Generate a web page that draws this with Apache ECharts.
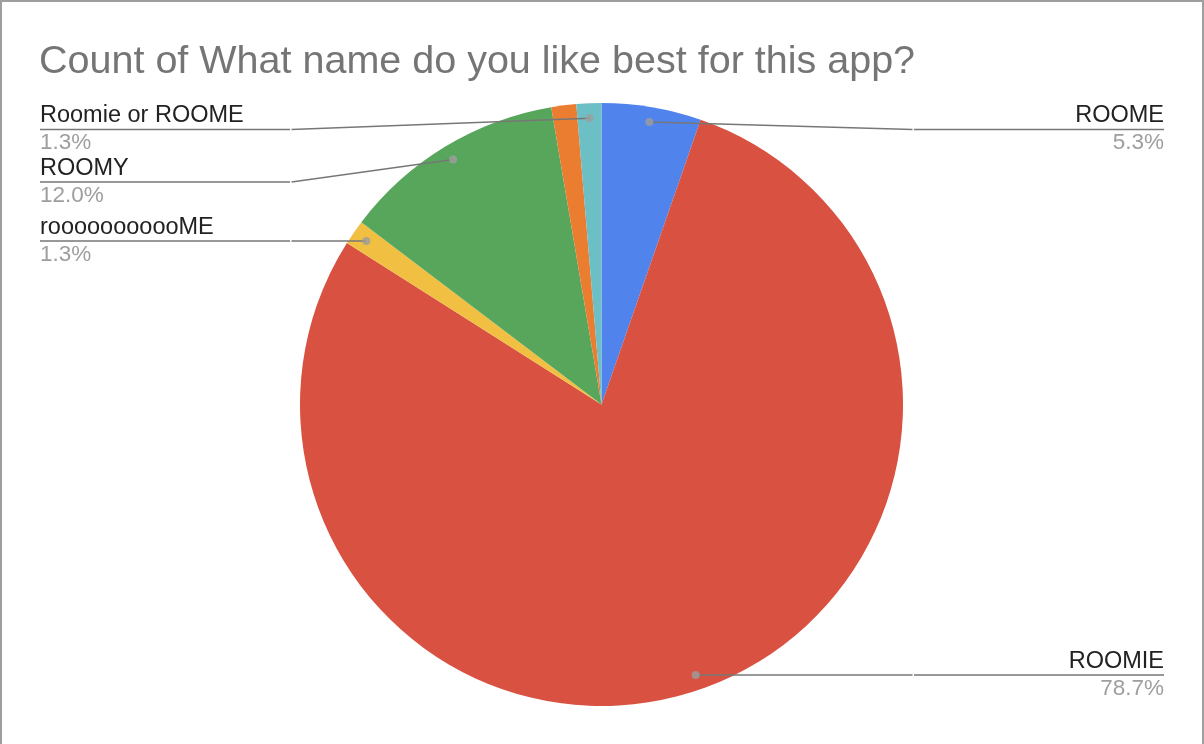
<!DOCTYPE html>
<html>
<head>
<meta charset="utf-8">
<script src="https://cdn.jsdelivr.net/npm/echarts@6/dist/echarts.min.js"></script>
<style>
  html, body { margin: 0; padding: 0; background: #fff; }
  #wrap { position: relative; width: 1204px; height: 744px; }
  #chart { width: 1204px; height: 744px; }
  #frame {
    position: absolute; left: 0; top: 0; width: 1204px; height: 744px;
    box-sizing: border-box; border: 2px solid #9e9e9e; border-bottom: none;
    pointer-events: none;
  }
</style>
</head>
<body>
<div id="wrap"><div id="chart"></div><div id="frame"></div></div>
<script>
// answers, clockwise from 12 o'clock
const names = ['ROOME', 'ROOMIE', 'rooooooooooME', 'ROOMY', 'Other', 'Roomie or ROOME'];
const counts = [4, 59, 1, 9, 1, 1];
const colors = ['#5083EB', '#D95140', '#F1BF42', '#58A65C', '#EB7D31', '#6CBFC5'];
// the sheet leaves this slice without a label
const unlabeled = ['Other'];

// layout
const CX = 601.5, CY = 404.5, R = 301.5;
const LABEL_TOP = 103;
const DOT_R = 0.95; // where the leader line starts, as share of radius
const FONT = '"Liberation Sans", Arial, Helvetica, sans-serif';

const total = counts.reduce((a, b) => a + b, 0);

// leader-line dots: middle of each labelled slice
const dots = [];
let acc = 0;
counts.forEach((c, i) => {
  if (!unlabeled.includes(names[i])) dots.push([DOT_R, acc + c / 2]);
  acc += c;
});

const chart = echarts.init(document.getElementById('chart'));

const pieBase = {
  type: 'pie',
  left: 0,
  right: 0,
  top: LABEL_TOP,
  bottom: 0,
  center: [CX, CY - LABEL_TOP],
  radius: R,
  startAngle: 90,
  clockwise: true,
  silent: true
};

const option = {
  animation: false,
  textStyle: { fontFamily: FONT },
  title: {
    text: 'Count of What name do you like best for this app?',
    left: 34,
    top: 37,
    textStyle: { fontSize: 39.5, fontWeight: 'normal', color: '#757575', fontFamily: FONT }
  },
  polar: { center: [CX, CY], radius: R },
  angleAxis: { type: 'value', min: 0, max: total, startAngle: 90, clockwise: true, show: false },
  radiusAxis: { type: 'value', min: 0, max: 1, show: false },
  series: [
    // the slices
    Object.assign({}, pieBase, {
      z: 2,
      data: names.map((n, i) => ({ name: n, value: counts[i], itemStyle: { color: colors[i] } })),
      label: { show: false },
      labelLine: { show: false }
    }),
    // same pie, see-through, carrying labels so the leader lines sit on top
    Object.assign({}, pieBase, {
      z: 4,
      data: names.map((n, i) => {
        const item = { name: n, value: counts[i] };
        if (unlabeled.includes(n)) {
          item.label = { show: false };
          item.labelLine = { show: false };
        }
        return item;
      }),
      itemStyle: { color: 'rgba(0,0,0,0)' },
      label: {
        position: 'outside',
        alignTo: 'edge',
        edgeDistance: 40,
        distanceToLabelLine: 0,
        width: 250,
        formatter: p => '{name|' + p.name + '}\n{hr|}\n{per|' + p.percent.toFixed(1) + '%}',
        rich: {
          name: { fontSize: 23.5, lineHeight: 27, color: '#222222', fontFamily: FONT },
          hr: { width: '100%', height: 0, lineHeight: 0, borderColor: '#777777', borderWidth: 1.5 },
          per: { fontSize: 22.5, lineHeight: 27, color: '#9E9E9E', fontFamily: FONT }
        }
      },
      labelLine: {
        show: true,
        showAbove: true,
        length: -15,
        length2: 10,
        lineStyle: { color: '#777777', width: 1.5 }
      },
      labelLayout: function (p) {
        const pts = p.labelLinePoints;
        if (!pts || !pts.length) return {};
        const a = pts[0];
        const start = [CX + (a[0] - CX) * DOT_R, CY + (a[1] - CY) * DOT_R];
        return { labelLinePoints: [start, pts[pts.length - 1]] };
      }
    }),
    {
      type: 'scatter',
      coordinateSystem: 'polar',
      data: dots,
      symbol: 'circle',
      symbolSize: 8,
      silent: true,
      z: 10,
      itemStyle: { color: '#9E9E9E' }
    }
  ]
};

chart.setOption(option);
window.addEventListener('resize', () => chart.resize());
</script>
</body>
</html>
